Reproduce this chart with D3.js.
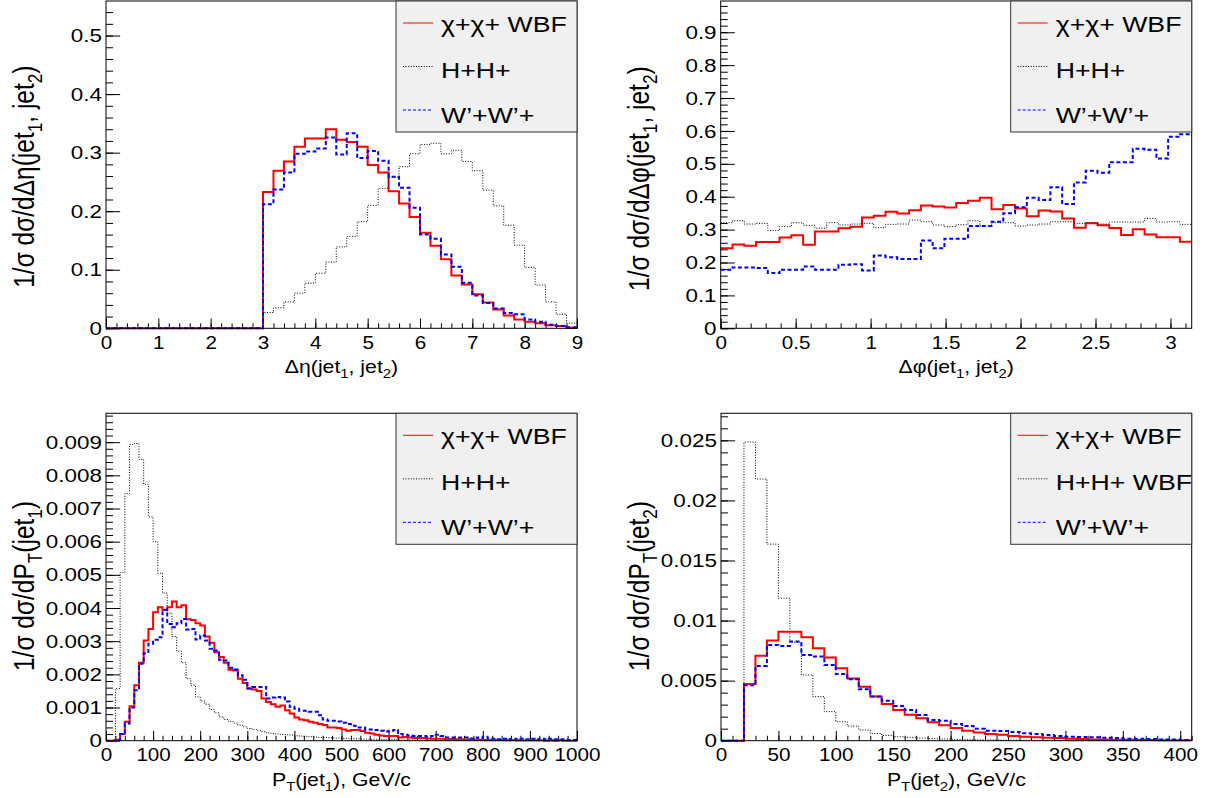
<!DOCTYPE html>
<html>
<head>
<meta charset="utf-8">
<script src="https://cdn.jsdelivr.net/npm/d3@7"></script>
<style>
  body { margin: 0; background: #fff; }
  svg { display: block; font-family: "Liberation Sans", Arial, Helvetica, sans-serif; }
</style>
</head>
<body>
<svg id="chart" width="1205" height="798"></svg>
<script>
// Delta eta(jet1, jet2): 45 bins of 0.2 from 0 to 9
const detaChi = [0, 0, 0, 0, 0, 0, 0, 0, 0, 0, 0, 0, 0, 0, 0,
    0.233, 0.269, 0.285, 0.310, 0.324, 0.324, 0.340, 0.322, 0.318, 0.310,
    0.279, 0.266, 0.234, 0.213, 0.190, 0.163, 0.141, 0.118, 0.090, 0.075,
    0.058, 0.044, 0.032, 0.022, 0.015, 0.011, 0.0085, 0.005, 0.004, 0.001];
const detaHH = [0, 0, 0, 0, 0, 0, 0, 0, 0, 0, 0, 0, 0, 0, 0,
    0.027, 0.035, 0.045, 0.060, 0.077, 0.094, 0.113, 0.139, 0.157, 0.182,
    0.210, 0.239, 0.258, 0.276, 0.298, 0.314, 0.316, 0.298, 0.304, 0.285,
    0.269, 0.236, 0.209, 0.176, 0.142, 0.104, 0.074, 0.045, 0.024, 0.009];
const detaWW = [0, 0, 0, 0, 0, 0, 0, 0, 0, 0, 0, 0, 0, 0, 0,
    0.212, 0.237, 0.266, 0.298, 0.302, 0.307, 0.326, 0.297, 0.333, 0.291,
    0.303, 0.286, 0.259, 0.240, 0.206, 0.160, 0.153, 0.126, 0.105, 0.078,
    0.056, 0.043, 0.034, 0.026, 0.024, 0.015, 0.011, 0.006, 0.004, 0.002];

// Delta phi(jet1, jet2): 40 bins from 0 to pi
const dphiChi = [0.243, 0.255, 0.251, 0.262, 0.262, 0.276, 0.283, 0.254, 0.294, 0.294,
    0.304, 0.309, 0.337, 0.342, 0.354, 0.349, 0.359, 0.373, 0.370, 0.367,
    0.381, 0.388, 0.397, 0.362, 0.375, 0.364, 0.341, 0.358, 0.355, 0.334,
    0.306, 0.319, 0.313, 0.305, 0.284, 0.301, 0.285, 0.277, 0.277, 0.263];
const dphiHH = [0.321, 0.327, 0.317, 0.319, 0.297, 0.309, 0.321, 0.313, 0.304, 0.321,
    0.314, 0.317, 0.319, 0.306, 0.316, 0.317, 0.329, 0.324, 0.314, 0.309,
    0.315, 0.327, 0.311, 0.321, 0.321, 0.311, 0.314, 0.317, 0.324, 0.324,
    0.319, 0.321, 0.317, 0.323, 0.323, 0.323, 0.334, 0.323, 0.324, 0.316];
const dphiWW = [0.178, 0.185, 0.185, 0.183, 0.168, 0.178, 0.178, 0.188, 0.178, 0.178,
    0.193, 0.195, 0.176, 0.221, 0.216, 0.211, 0.211, 0.267, 0.243, 0.272,
    0.272, 0.311, 0.311, 0.324, 0.350, 0.368, 0.397, 0.390, 0.429, 0.378,
    0.443, 0.479, 0.473, 0.505, 0.505, 0.546, 0.543, 0.516, 0.582, 0.590];

// PT(jet1): 100 bins of 10 GeV from 0 to 1000
const pt1Chi = [0, 0, 0.00003, 0.0002, 0.00057, 0.00104, 0.00167, 0.00235, 0.00302, 0.00337,
    0.00387, 0.00402, 0.00394, 0.00402, 0.0042, 0.00402, 0.00408, 0.00366, 0.00364, 0.00354,
    0.00347, 0.00314, 0.00295, 0.00267, 0.00252, 0.00235, 0.00214, 0.00212, 0.00187, 0.00174,
    0.00157, 0.00154, 0.0015, 0.00127, 0.00117, 0.0011, 0.00102, 0.00106, 0.00092, 0.00082,
    0.0007, 0.00064, 0.00062, 0.00057, 0.00054, 0.0005, 0.00047, 0.0004, 0.0004, 0.00038,
    0.00034, 0.0003, 0.00032, 0.00032, 0.00029, 0.00024, 0.00022, 0.00018, 0.00016, 0.00014,
    0.00014, 0.00014, 0.0001, 0.00011, 0.0001, 0.00008, 0.00008, 0.00008, 0.00007, 0.00006,
    0.00006, 0.00006, 0.00004, 0.00005, 0.00004, 0.00004, 0.00003, 0.00004, 0.00003, 0.00003,
    0.00002, 0.00002, 0.00003, 0.00002, 0.00002, 0.00001, 0.00002, 0.00001, 0.00001, 0.00001,
    0.00001, 0.00001, 0.00001, 0, 0.00001, 0, 0.00001, 0, 0, 0];
const pt1HH = [0, 0, 0.00157, 0.00507, 0.00745, 0.00893, 0.00896, 0.00848, 0.00773, 0.00675,
    0.0060, 0.00505, 0.00445, 0.00385, 0.00314, 0.0027, 0.00235, 0.00187, 0.00167, 0.00132,
    0.0012, 0.0011, 0.00094, 0.00084, 0.00072, 0.00064, 0.00058, 0.00053, 0.00047, 0.00042,
    0.00037, 0.00034, 0.0003, 0.00027, 0.00024, 0.00022, 0.0002, 0.00019, 0.00018, 0.00017,
    0.00015, 0.00014, 0.00013, 0.00012, 0.00011, 0.0001, 0.0001, 0.00009, 0.00008, 0.00008,
    0.00007, 0.00007, 0.00006, 0.00006, 0.00005, 0.00005, 0.00004, 0.00004, 0.00004, 0.00003,
    0.00003, 0.00003, 0.00002, 0.00002, 0.00002, 0.00002, 0.00002, 0.00001, 0.00001, 0.00001,
    0.00001, 0.00001, 0.00001, 0.00001, 0.00001, 0.00001, 0.00001, 0.00001, 0.00001, 0.00001,
    0, 0, 0, 0, 0, 0, 0, 0, 0, 0,
    0, 0, 0, 0, 0, 0, 0, 0, 0, 0];
const pt1WW = [0, 0, 0.00002, 0.0002, 0.00052, 0.001, 0.00152, 0.00232, 0.00264, 0.00292,
    0.00304, 0.00312, 0.00395, 0.00352, 0.00342, 0.00354, 0.00367, 0.00335, 0.00337, 0.00305,
    0.00317, 0.00302, 0.00277, 0.00272, 0.00244, 0.00242, 0.0022, 0.00215, 0.00197, 0.00184,
    0.00157, 0.00162, 0.00162, 0.00162, 0.00127, 0.0013, 0.00132, 0.0013, 0.00118, 0.00102,
    0.00096, 0.0009, 0.0009, 0.00087, 0.00087, 0.00077, 0.00064, 0.0006, 0.0006, 0.00058,
    0.00054, 0.0005, 0.00045, 0.0004, 0.0004, 0.00034, 0.00034, 0.00032, 0.0003, 0.00028,
    0.0003, 0.00032, 0.0002, 0.00018, 0.00016, 0.00014, 0.00014, 0.00014, 0.00012, 0.00014,
    0.00018, 0.00014, 0.0001, 0.0001, 0.0001, 0.0001, 0.0001, 0.00007, 0.0001, 0.00008,
    0.00012, 0.00007, 0.00006, 0.00004, 0.00006, 0.00004, 0.00006, 0.00004, 0.00006, 0.00004,
    0.00006, 0.00004, 0.00006, 0.00004, 0.00006, 0.00004, 0.00004, 0.00004, 0.00002, 0.00002];

// PT(jet2): 41 bins of 10 GeV from 0 to 410
const pt2Chi = [0, 0, 0.00472, 0.00708, 0.00833, 0.00906, 0.00906, 0.00861, 0.00769, 0.00692,
    0.00603, 0.00517, 0.0045, 0.00367, 0.00306, 0.00256, 0.00217, 0.00186, 0.00153, 0.00128,
    0.00106, 0.00083, 0.00069, 0.00056, 0.0005, 0.00039, 0.00033, 0.00028, 0.00025, 0.00022,
    0.00017, 0.00014, 0.00011, 0.00011, 0.00008, 0.00008, 0.00006, 0.00006, 0.00003, 0.00003,
    0.00003];
const pt2HH = [0, 0, 0.02486, 0.02178, 0.01636, 0.01186, 0.0082, 0.00547, 0.00367, 0.00242,
    0.00158, 0.00122, 0.00089, 0.0006, 0.00044, 0.00033, 0.00028, 0.00022, 0.00017, 0.00014,
    0.00011, 0.00008, 0.00007, 0.00006, 0.00005, 0.00004, 0.00003, 0.00003, 0.00002, 0.00002,
    0.00001, 0.00001, 0.00001, 0.00001, 0.00001, 0.00001, 0.00001, 0.00001, 0.00001, 0.00001,
    0.00001];
const pt2WW = [0, 0, 0.00461, 0.00622, 0.00797, 0.00789, 0.00825, 0.00714, 0.007, 0.00631,
    0.00556, 0.00511, 0.00428, 0.00367, 0.00333, 0.00289, 0.00256, 0.00214, 0.00172, 0.00167,
    0.00139, 0.00122, 0.001, 0.00083, 0.0008, 0.00072, 0.00061, 0.00056, 0.00047, 0.00039,
    0.00033, 0.00031, 0.00028, 0.00025, 0.00022, 0.00017, 0.00017, 0.00014, 0.00011, 0.00011,
    0.00006];

// Tick labels
const detaXTicks = [0, 1, 2, 3, 4, 5, 6, 7, 8, 9];
const detaYTicks = [0, 0.1, 0.2, 0.3, 0.4, 0.5];
const dphiXTicks = [0, 0.5, 1, 1.5, 2, 2.5, 3];
const dphiYTicks = [0, 0.1, 0.2, 0.3, 0.4, 0.5, 0.6, 0.7, 0.8, 0.9];
const pt1XTicks = [0, 100, 200, 300, 400, 500, 600, 700, 800, 900, 1000];
const pt1YTicks = [0, 0.001, 0.002, 0.003, 0.004, 0.005, 0.006, 0.007, 0.008, 0.009];
const pt2XTicks = [0, 50, 100, 150, 200, 250, 300, 350, 400];
const pt2YTicks = [0, 0.005, 0.01, 0.015, 0.02, 0.025];

const legendTop = ["χ+χ+ WBF", "H+H+", "W’+W’+"];
const legendPt2 = ["χ+χ+ WBF", "H+H+ WBF", "W’+W’+"];

// Line styles: signal, H+H+, W'+W'+
const styles = [
    {color: "#ff0000", width: 2, dash: null, legendDash: null},
    {color: "#000000", width: 1, dash: "1,1.6", legendDash: "1,1.6"},
    {color: "#0000ff", width: 2, dash: "4,2.5", legendDash: "3,2"}
];

const panels = [
    {left: 106, top: 1, width: 471, height: 327.3,
     xDomain: [0, 9], yDomain: [0, 0.559], binWidth: 0.2,
     series: [detaChi, detaHH, detaWW], xTicks: detaXTicks, yTicks: detaYTicks,
     xMinor: 0.2, yMinor: 0.02, legend: legendTop, yTitleShift: 12,
     xTitle: [["Δη(jet"], ["1", 1], [", jet"], ["2", 1], [")"]],
     yTitle: [["1/σ dσ/dΔη(jet"], ["1", 1], [", jet"], ["2", 1], [")"]]},
    {left: 720.7, top: 1, width: 471, height: 327.3,
     xDomain: [0, Math.PI], yDomain: [0, 0.995], binWidth: Math.PI / 40,
     series: [dphiChi, dphiHH, dphiWW], xTicks: dphiXTicks, yTicks: dphiYTicks,
     xMinor: 0.1, yMinor: 0.02, legend: legendTop, yTitleShift: 14,
     xTitle: [["Δφ(jet"], ["1", 1], [", jet"], ["2", 1], [")"]],
     yTitle: [["1/σ dσ/dΔφ(jet"], ["1", 1], [", jet"], ["2", 1], [")"]]},
    {left: 106, top: 413.3, width: 471, height: 327.4,
     xDomain: [0, 1000], yDomain: [0, 0.00987], binWidth: 10,
     series: [pt1Chi, pt1HH, pt1WW], xTicks: pt1XTicks, yTicks: pt1YTicks,
     xMinor: 20, yMinor: 0.0002, legend: legendTop, yTitleShift: 9,
     xTitle: [["P"], ["T", 1], ["(jet"], ["1", 1], ["), GeV/c"]],
     yTitle: [["1/σ dσ/dP"], ["T", 1], ["(jet"], ["1", 1], [")"]]},
    {left: 721, top: 413.3, width: 470.7, height: 327.4,
     xDomain: [0, 410], yDomain: [0, 0.02725], binWidth: 10,
     series: [pt2Chi, pt2HH, pt2WW], xTicks: pt2XTicks, yTicks: pt2YTicks,
     xMinor: 10, yMinor: 0.001, legend: legendPt2, yTitleShift: 9,
     xTitle: [["P"], ["T", 1], ["(jet"], ["2", 1], ["), GeV/c"]],
     yTitle: [["1/σ dσ/dP"], ["T", 1], ["(jet"], ["2", 1], [")"]]}
];

const svg = d3.select("#chart");
const xLabelSize = 17.5;
const yLabelSize = 19;
const xTitleSize = 18;
const yTitleSize = 24.5;
const legendSize = 22.6;
const wide = "scale(1.18,1)";   // the reference glyphs are drawn a bit wider than tall

// text with subscripts (ROOT style)
function addRichText(sel, parts, size) {
    let down = false;
    parts.forEach(part => {
        const t = sel.append("tspan").text(part[0]);
        if (part[1] && !down) { t.attr("font-size", size * 0.7).attr("dy", size * 0.28); down = true; }
        else if (!part[1] && down) { t.attr("dy", -size * 0.28); down = false; }
    });
}

function styleAxis(g, size) {
    g.select(".domain").remove();
    g.selectAll(".tick line").attr("stroke", "#000").attr("stroke-width", 1);
    g.selectAll(".tick text").attr("fill", "#000").attr("transform", wide);
    g.attr("font-size", size).attr("font-family", null);
}

function drawPanel(p) {
    const g = svg.append("g")
        .attr("transform", "translate(" + p.left + "," + p.top + ")");

    const x = d3.scaleLinear().domain(p.xDomain).range([0, p.width]);
    const y = d3.scaleLinear().domain(p.yDomain).range([p.height, 0]);

    const xTickLen = 0.03 * p.height;
    const yTickLen = 0.03 * p.width;

    // minor ticks
    const xMinorVals = d3.range(p.xDomain[0], p.xDomain[1] + 1e-9, p.xMinor);
    const yMinorVals = d3.range(p.yDomain[0], p.yDomain[1], p.yMinor);

    g.append("g")
        .attr("transform", "translate(0," + p.height + ")")
        .call(d3.axisBottom(x).tickValues(xMinorVals).tickSize(-xTickLen / 2).tickFormat(""))
        .call(styleAxis, xLabelSize);
    g.append("g")
        .call(d3.axisLeft(y).tickValues(yMinorVals).tickSize(-yTickLen / 2).tickFormat(""))
        .call(styleAxis, yLabelSize);

    // major ticks + labels
    g.append("g")
        .attr("transform", "translate(0," + p.height + ")")
        .call(d3.axisBottom(x).tickValues(p.xTicks).tickSize(-xTickLen).tickPadding(8)
            .tickFormat(d => String(d)))
        .call(styleAxis, xLabelSize);
    g.append("g")
        .call(d3.axisLeft(y).tickValues(p.yTicks).tickSize(-yTickLen).tickPadding(3.5)
            .tickFormat(d => String(d)))
        .call(styleAxis, yLabelSize);

    // histograms
    const line = d3.line()
        .curve(d3.curveStepAfter)
        .x(d => x(d[0]))
        .y(d => y(d[1]));

    p.series.forEach((vals, i) => {
        const pts = vals.map((v, k) => [p.xDomain[0] + k * p.binWidth, v]);
        pts.push([p.xDomain[0] + vals.length * p.binWidth, vals[vals.length - 1]]);
        g.append("path")
            .attr("d", line(pts))
            .attr("fill", "none")
            .attr("stroke", styles[i].color)
            .attr("stroke-width", styles[i].width)
            .attr("stroke-dasharray", styles[i].dash);
    });

    // frame
    g.append("rect")
        .attr("width", p.width)
        .attr("height", p.height)
        .attr("fill", "none")
        .attr("stroke", "#000")
        .attr("stroke-width", 1);

    // axis titles
    const xt = g.append("text")
        .attr("transform", "translate(" + (p.width / 2) + "," + (p.height + 45) + ") " + wide)
        .attr("text-anchor", "middle")
        .attr("font-size", xTitleSize);
    addRichText(xt, p.xTitle, xTitleSize);

    const yt = g.append("text")
        .attr("transform", "translate(-72," + (p.height / 2 + p.yTitleShift) + ") " + wide + " rotate(-90)")
        .attr("text-anchor", "middle")
        .attr("font-size", yTitleSize);
    addRichText(yt, p.yTitle, yTitleSize);

    // legend
    const lw = 181, lh = 131;
    const lg = g.append("g")
        .attr("transform", "translate(" + (p.width - lw) + ",0)");
    lg.append("rect")
        .attr("width", lw)
        .attr("height", lh)
        .attr("fill", "#f0f0f0")
        .attr("stroke", "#333")
        .attr("stroke-width", 1);

    p.legend.forEach((lab, i) => {
        const ly = 22 + i * 43.5;
        lg.append("line")
            .attr("x1", 7).attr("x2", 37)
            .attr("y1", ly).attr("y2", ly)
            .attr("stroke", styles[i].color)
            .attr("stroke-width", 1)
            .attr("stroke-dasharray", styles[i].legendDash);
        lg.append("text")
            .attr("transform", "translate(45," + (31 + i * 45.5) + ") " + wide)
            .attr("font-size", legendSize)
            .text(lab);
    });
}

panels.forEach(drawPanel);
</script>
</body>
</html>
